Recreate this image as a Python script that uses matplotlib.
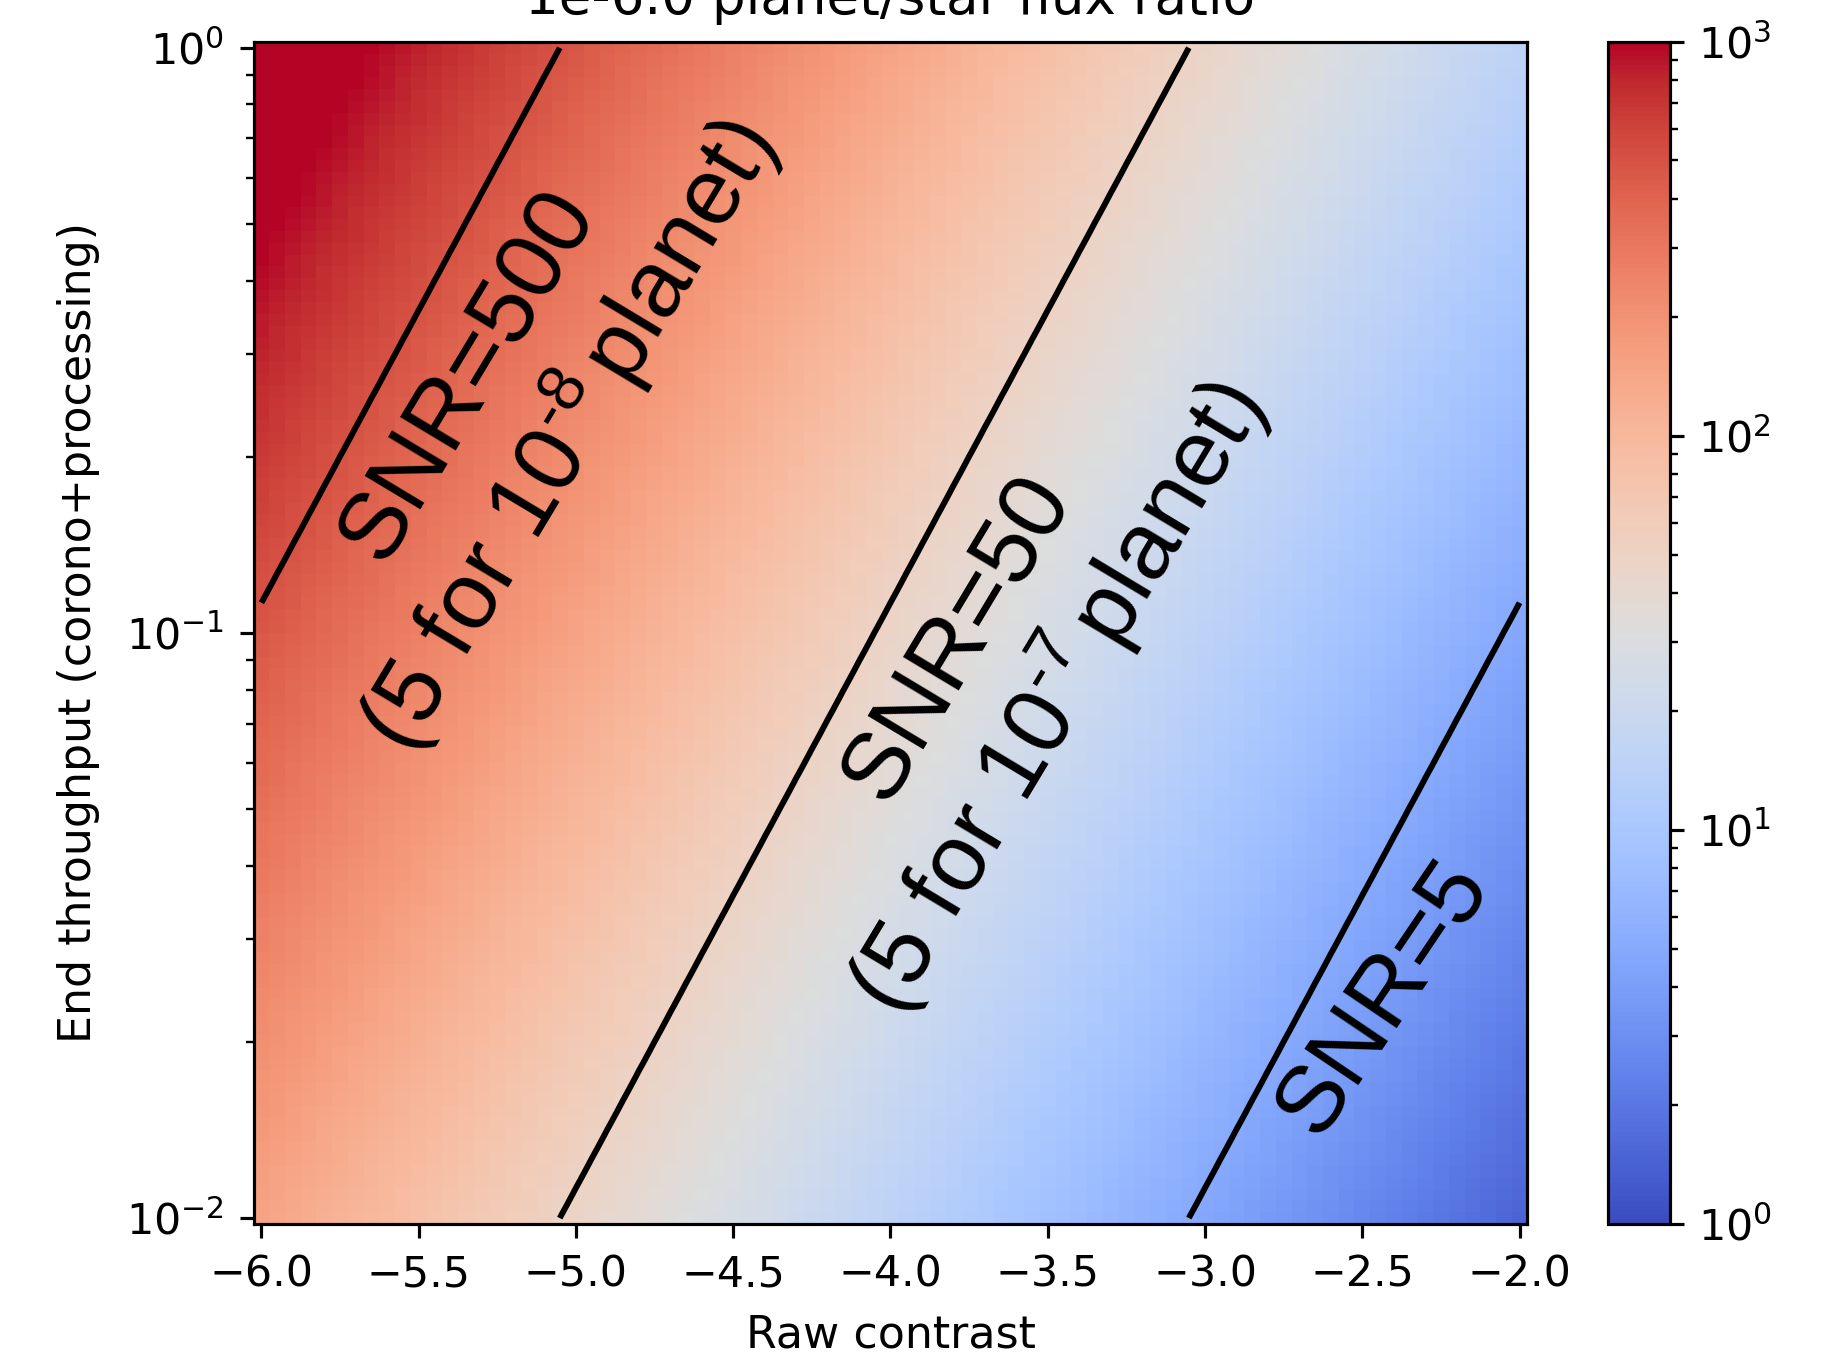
import numpy as np
import matplotlib
matplotlib.use("Agg")
import matplotlib.pyplot as plt
from matplotlib.colors import LogNorm

# ---- data ----
raw_contrast_log = np.round(np.arange(-6.0, -1.95, 0.05), 2)   # x grid (log10 raw contrast)
end_throughput = np.logspace(-2, 0, 100)                         # y grid
flux_ratio_label = "1e-6.0"
snr_unit = 1.49
contour_levels = [5, 50, 500]
annotation_texts = [
    "SNR=500\n$\\mathregular{(5\\ for\\ 10^{\u2010" + "8}\\,planet)}$",
    "SNR=50\n$\\mathregular{(5\\ for\\ 10^{\u2010" + "7}\\,planet)}$",
    "SNR=5",
]
cbar_range = (1, 1000)

# SNR field: photon-noise limited, SNR ~ sqrt(throughput / contrast)
X, Y = np.meshgrid(raw_contrast_log, end_throughput)
snr = snr_unit * np.sqrt(Y / 10.0 ** X)

# ---- figure ----
plt.rcParams['font.family'] = ['DejaVu Sans']
plt.rcParams['mathtext.fontset'] = 'custom'
plt.rcParams['mathtext.rm'] = 'Liberation Sans'
plt.rcParams['mathtext.it'] = 'Liberation Sans:italic'
plt.rcParams['mathtext.bf'] = 'Liberation Sans:bold'

fig = plt.figure(figsize=(6.4, 1355 / 285), dpi=285)
ax = fig.add_axes([0.139, 0.0967, 0.6984, 0.8724])
cax = fig.add_axes([0.8814, 0.0967, 0.0344, 0.8724])

# cell edges (linear in x, log in y)
dx = raw_contrast_log[1] - raw_contrast_log[0]
xe = np.concatenate([raw_contrast_log - dx / 2, [raw_contrast_log[-1] + dx / 2]])
ly = np.log10(end_throughput)
dly = ly[1] - ly[0]
ye = 10 ** np.concatenate([ly - dly / 2, [ly[-1] + dly / 2]])

mesh = ax.pcolormesh(xe, ye, snr, cmap='coolwarm',
                     norm=LogNorm(vmin=cbar_range[0], vmax=cbar_range[1]))
ax.contour(X, Y, snr, levels=contour_levels, colors='black', linewidths=1.5)
ax.set_yscale('log')
ax.set_xlim(xe[0], xe[-1])
ax.set_ylim(ye[0], ye[-1])
ax.set_xticks([-6.0, -5.5, -5.0, -4.5, -4.0, -3.5, -3.0, -2.5, -2.0])
ax.set_xlabel('Raw contrast', fontsize=11.2, labelpad=4.5)
ax.set_ylabel('End throughput (corono+processing)', fontsize=11.2, labelpad=6.5)
ax.set_title(f'{flux_ratio_label} planet/star flux ratio', fontsize=13.4, pad=7)
ax.tick_params(labelsize=10.8, pad=4)

cb = fig.colorbar(mesh, cax=cax)
cb.ax.tick_params(labelsize=10.8)

# annotations
positions = [(0.21, 0.691), (0.594, 0.4695), (0.887, 0.191)]
angles = [59, 59, 56]
for txt, (px, py), ang in zip(annotation_texts, positions, angles):
    ax.text(px, py, txt, transform=ax.transAxes, rotation=ang,
            rotation_mode='anchor', ha='center', va='center',
            multialignment='center', fontsize=24,
            family=['Liberation Sans', 'DejaVu Sans'], linespacing=1.2)

fig.savefig('out.png', dpi=285)
